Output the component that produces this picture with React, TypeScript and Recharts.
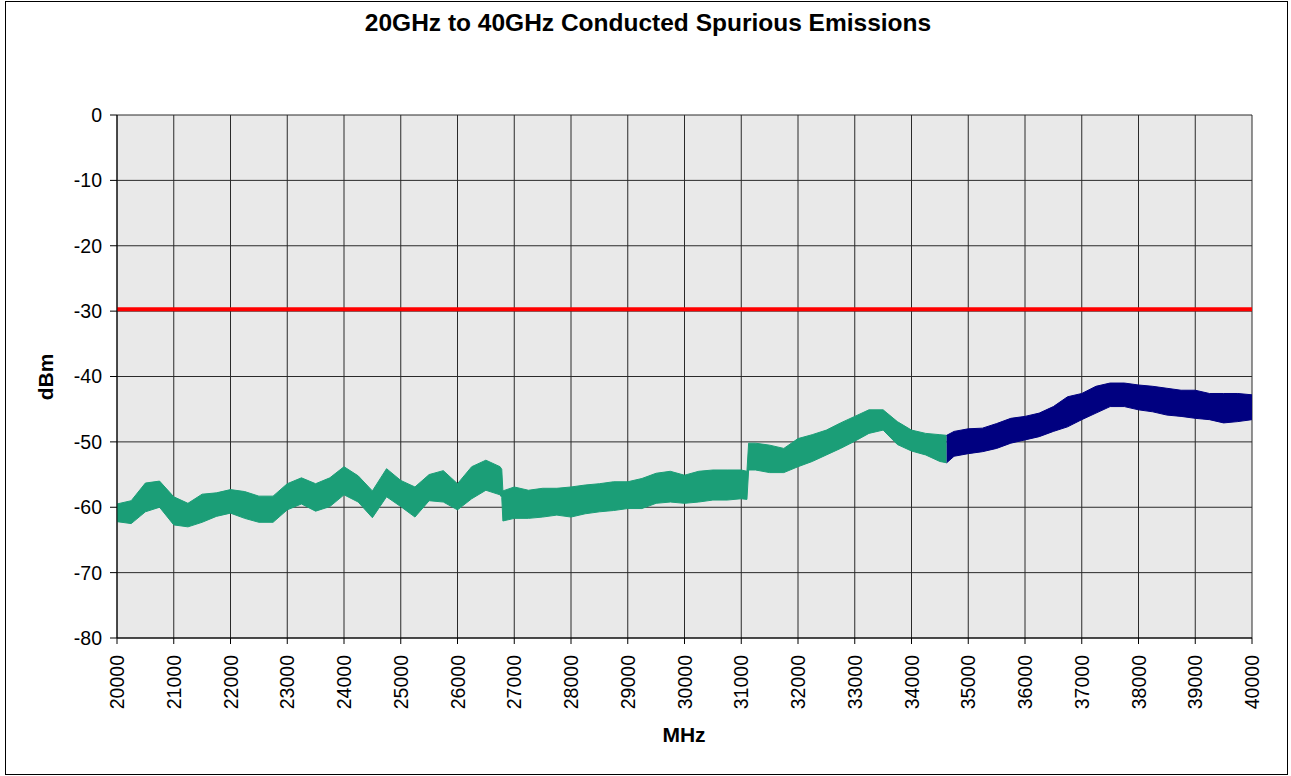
import { ComposedChart, Area, XAxis, YAxis, CartesianGrid, ReferenceLine } from 'recharts';

const greenFreq = [
  20000, 20250, 20500, 20750, 21000, 21250, 21500, 21750, 22000, 22250, 22500, 22750, 23000, 23250,
  23500, 23750, 24000, 24250, 24500, 24750, 25000, 25250, 25500, 25750, 26000, 26250, 26500, 26750,
  26780, 26800, 27000, 27250, 27500, 27750, 28000, 28250, 28500, 28750, 29000, 29250, 29500, 29750,
  30000, 30250, 30500, 30750, 31000, 31100, 31130, 31250, 31500, 31750, 32000, 32250, 32500, 32750,
  33000, 33250, 33500, 33750, 34000, 34250, 34500, 34620,
];
const greenHi = [
  -59.5, -59, -56.3, -56, -58.4, -59.4, -58, -57.8, -57.3, -57.6, -58.3, -58.3, -56.4, -55.5,
  -56.4, -55.5, -53.8, -55.2, -57.5, -54.1, -55.9, -56.9, -55, -54.4, -56.4, -53.8, -52.8, -53.8,
  -54.2, -57.5, -56.9, -57.4, -57.1, -57.1, -56.9, -56.6, -56.4, -56.1, -56.1, -55.6, -54.8, -54.5,
  -55.1, -54.5, -54.3, -54.3, -54.3, -54.5, -50.2, -50.2, -50.5, -51.0, -49.5, -48.9, -48.2, -47.1,
  -46.1, -45.1, -45.1, -46.9, -48.2, -48.7, -48.9, -49.0,
];
const greenLo = [
  -62.2, -62.5, -60.7, -60, -62.7, -63.0, -62.3, -61.4, -60.9, -61.7, -62.3, -62.3, -60.4, -59.5,
  -60.6, -59.9, -58.1, -59.2, -61.6, -58.4, -59.9, -61.5, -59, -59.2, -60.4, -58.7, -57.4, -58.1,
  -58.5, -62.1, -61.7, -61.7, -61.5, -61.2, -61.5, -61.0, -60.7, -60.5, -60.2, -60.2, -59.4, -59.2,
  -59.4, -59.2, -58.9, -58.9, -58.7, -58.8, -54.3, -54.3, -54.7, -54.7, -53.8, -53.0, -52.0, -51.0,
  -49.9, -48.7, -48.2, -50.4, -51.4, -52.0, -53.0, -53.2,
];

const blueFreq = [
  34620, 34750, 35000, 35250, 35500, 35750, 36000, 36250, 36500, 36750, 37000, 37250, 37500, 37750,
  38000, 38250, 38500, 38750, 39000, 39250, 39500, 39750, 40000,
];
const blueHi = [
  -49.0, -48.4, -48.0, -47.9, -47.2, -46.4, -46.1, -45.6, -44.6, -43.1, -42.6, -41.5, -41.0, -41.0,
  -41.3, -41.5, -41.8, -42.1, -42.1, -42.6, -42.6, -42.6, -42.8,
];
const blueLo = [
  -53.2, -52.2, -51.8, -51.5, -51.0, -50.2, -49.7, -49.2, -48.4, -47.7, -46.6, -45.6, -44.6, -44.6,
  -45.1, -45.4, -45.9, -46.1, -46.4, -46.6, -47.1, -46.9, -46.6,
];

const limitDbm = -29.7;

const xTicks = [
  20000, 21000, 22000, 23000, 24000, 25000, 26000, 27000, 28000, 29000, 30000,
  31000, 32000, 33000, 34000, 35000, 36000, 37000, 38000, 39000, 40000,
];
const yTicks = [0, -10, -20, -30, -40, -50, -60, -70, -80];

const FONT = '"Liberation Sans", Arial, sans-serif';

type Row = { f: number; g?: [number, number]; b?: [number, number] };

// merge both sweeps into one table keyed by frequency
const rowMap = new Map<number, Row>();
greenFreq.forEach((f, i) => {
  rowMap.set(f, { ...(rowMap.get(f) || { f }), g: [greenLo[i], greenHi[i]] });
});
blueFreq.forEach((f, i) => {
  rowMap.set(f, { ...(rowMap.get(f) || { f }), b: [blueLo[i], blueHi[i]] });
});
const data = Array.from(rowMap.values()).sort((a, b) => a.f - b.f);

const XTick = ({ x, y, payload }: any) => (
  <text
    x={x}
    y={y}
    dy={7}
    transform={`rotate(-90, ${x}, ${y})`}
    textAnchor="end"
    fontFamily={FONT}
    fontSize={19.5}
    fill="#000"
  >
    {payload.value}
  </text>
);

const App = () => {
  return (
    <div style={{ position: 'absolute', left: 0, top: 0, width: 1291, height: 776, background: '#fff' }}>
      <div
        style={{
          position: 'absolute',
          left: 5,
          top: 1,
          width: 1283,
          height: 774,
          boxSizing: 'border-box',
          border: '1px solid #000',
        }}
      />
      <div style={{ position: 'absolute', left: 0, top: 0 }}>
        <ComposedChart
          width={1291}
          height={776}
          data={data}
          margin={{ top: 115, right: 39, left: 57, bottom: 58 }}
        >
          <CartesianGrid fill="#e9e9e9" stroke="#2a2a2a" strokeWidth={1} />
          <XAxis
            dataKey="f"
            type="number"
            domain={[20000, 40000]}
            ticks={xTicks}
            interval={0}
            height={80}
            tickSize={6}
            tickMargin={11}
            tick={<XTick />}
            axisLine={{ stroke: '#000' }}
            tickLine={{ stroke: '#000' }}
          />
          <YAxis
            type="number"
            domain={[-80, 0]}
            ticks={yTicks}
            interval={0}
            width={60}
            tickSize={7}
            tickMargin={8}
            tick={{ fontFamily: FONT, fontSize: 19.5, fill: '#000' }}
            axisLine={{ stroke: '#000' }}
            tickLine={{ stroke: '#000' }}
          />
          <Area
            type="linear"
            dataKey="g"
            stroke="#1b9e77"
            strokeWidth={1}
            fill="#1b9e77"
            fillOpacity={1}
            isAnimationActive={false}
            dot={false}
            activeDot={false}
          />
          <Area
            type="linear"
            dataKey="b"
            stroke="#000080"
            strokeWidth={1}
            fill="#000080"
            fillOpacity={1}
            isAnimationActive={false}
            dot={false}
            activeDot={false}
          />
          <ReferenceLine y={limitDbm} stroke="#ff0000" strokeWidth={4} ifOverflow="visible" />
        </ComposedChart>
      </div>
      <svg
        width={1291}
        height={776}
        style={{ position: 'absolute', left: 0, top: 0, pointerEvents: 'none' }}
      >
        <text x={648} y={31} textAnchor="middle" fontFamily={FONT} fontWeight="bold" fontSize={24.5}>
          20GHz to 40GHz Conducted Spurious Emissions
        </text>
        <text x={684} y={742} textAnchor="middle" fontFamily={FONT} fontWeight="bold" fontSize={21}>
          MHz
        </text>
        <text
          x={53}
          y={377}
          transform="rotate(-90, 53, 377)"
          textAnchor="middle"
          fontFamily={FONT}
          fontWeight="bold"
          fontSize={21}
        >
          dBm
        </text>
      </svg>
    </div>
  );
};

export default App;
